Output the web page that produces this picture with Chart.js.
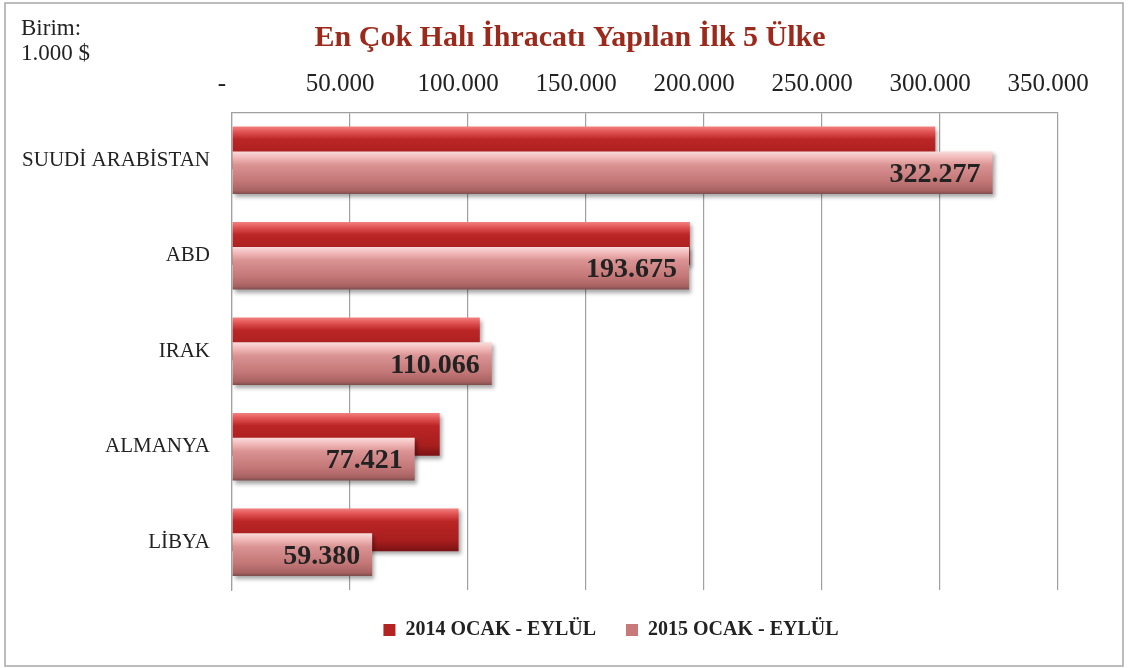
<!DOCTYPE html>
<html>
<head>
<meta charset="utf-8">
<script src="https://cdn.jsdelivr.net/npm/chart.js@4/dist/chart.umd.min.js"></script>
<style>
  html, body { margin: 0; padding: 0; background: #fff; }
  #wrap { width: 1128px; height: 668px; position: relative; }
</style>
</head>
<body>
<div id="wrap"><canvas id="c" width="1128" height="668"></canvas></div>
<script>
const categories = ['SUUDİ ARABİSTAN', 'ABD', 'IRAK', 'ALMANYA', 'LİBYA'];
const series2014 = [298000, 194000, 105000, 88000, 96000];
const series2015 = [322277, 193675, 110066, 77421, 59380];
const seriesNames = ['2014 OCAK - EYLÜL', '2015 OCAK - EYLÜL'];
const titleText = 'En Çok Halı İhracatı Yapılan İlk 5 Ülke';
const unitLines = ['Birim:', '1.000 $'];
const xTicks = [0, 50000, 100000, 150000, 200000, 250000, 300000, 350000];

const SERIF = '"Liberation Serif", "DejaVu Serif", serif';
const fmt = v => v === 0 ? '-' : v.toLocaleString('de-DE');

const gradStops = [
  [[0, '#f28080'], [0.12, '#e35555'], [0.3, '#bb2525'], [0.75, '#a81e1e'], [1, '#7a1212']],
  [[0, '#f9dcdc'], [0.14, '#f2baba'], [0.32, '#da9292'], [0.7, '#c37777'], [0.92, '#a86262'], [1, '#7d4c4c']]
];

const customPlugin = {
  id: 'custom',
  beforeDraw(chart) {
    const ctx = chart.ctx;
    ctx.save();
    ctx.fillStyle = '#fff';
    ctx.fillRect(0, 0, chart.width, chart.height);
    ctx.strokeStyle = '#a6a6a6';
    ctx.lineWidth = 1.5;
    ctx.strokeRect(5, 3, chart.width - 10, chart.height - 5);
    ctx.fillStyle = '#222';
    ctx.font = '23px ' + SERIF;
    ctx.textBaseline = 'alphabetic';
    ctx.textAlign = 'left';
    unitLines.forEach((t, i) => ctx.fillText(t, 21, 35 + i * 25));
    ctx.restore();
  },
  afterLayout(chart) {
    const l = chart.legend;
    if (l) { l.left += 77; l.right += 77; }
    const t = chart.titleBlock;
    if (t) { t.left += 36; t.right += 36; }
  },
  beforeDatasetsDraw(chart) {
    const ctx = chart.ctx;
    const area = chart.chartArea;
    [0, 1].forEach(di => {
      const meta = chart.getDatasetMeta(di);
      meta.data.forEach(el => {
        const p = el.getProps(['y', 'height'], true);
        const top = p.y - p.height / 2, bot = p.y + p.height / 2;
        const g = ctx.createLinearGradient(0, top, 0, bot);
        gradStops[di].forEach(s => g.addColorStop(s[0], s[1]));
        el.options = Object.assign({}, el.options, { backgroundColor: g });
      });
      ctx.save();
      ctx.beginPath();
      ctx.rect(area.left, area.top, area.right - area.left + 20, area.bottom - area.top);
      ctx.clip();
      ctx.shadowColor = 'rgba(0,0,0,0.35)';
      ctx.shadowBlur = 4;
      ctx.shadowOffsetX = 2;
      ctx.shadowOffsetY = 3;
      meta.controller.draw();
      ctx.restore();
    });
    // labels on 2015 bars
    const meta = chart.getDatasetMeta(1);
    ctx.save();
    ctx.font = 'bold 28px ' + SERIF;
    ctx.fillStyle = '#222';
    ctx.textAlign = 'right';
    ctx.textBaseline = 'middle';
    meta.data.forEach((el, i) => {
      const p = el.getProps(['x', 'y'], true);
      ctx.fillText(fmt(series2015[i]), p.x - 12, p.y + 2);
    });
    ctx.restore();
    return false;
  }
};

new Chart(document.getElementById('c'), {
  type: 'bar',
  data: {
    labels: categories,
    datasets: [
      { label: seriesNames[0], data: series2014, backgroundColor: '#b52222', borderWidth: 0,
        categoryPercentage: 0.52, barPercentage: 1.72 },
      { label: seriesNames[1], data: series2015, backgroundColor: '#c87a7a', borderWidth: 0,
        categoryPercentage: 0.52, barPercentage: 1.72 }
    ]
  },
  options: {
    indexAxis: 'y',
    responsive: false,
    animation: false,
    layout: { padding: { top: 0, left: 10, right: 70, bottom: 18 } },
    scales: {
      x: {
        position: 'top',
        min: 0, max: 350000,
        afterBuildTicks: s => { s.ticks = xTicks.map(v => ({ value: v })); },
        afterFit: s => { s.height = 52.6; s.paddingLeft = 0; s.paddingRight = 0; },
        ticks: {
          callback: v => fmt(v),
          font: { family: SERIF, size: 25 },
          color: '#222',
          padding: 13,
          labelOffset: -10,
          maxRotation: 0
        },
        grid: { color: '#a0a0a0', lineWidth: 1.2, drawTicks: false },
        border: { display: true, color: '#a0a0a0', width: 1.2 }
      },
      y: {
        afterFit: s => { s.width = 222; },
        ticks: { font: { family: SERIF, size: 21 }, color: '#222', padding: 22 },
        grid: { display: false, drawTicks: false },
        border: { display: true, color: '#a0a0a0', width: 1.2 }
      }
    },
    plugins: {
      title: {
        display: true,
        text: titleText,
        color: '#9c2a1c',
        font: { family: SERIF, size: 30, weight: 'bold' },
        padding: { top: 20, bottom: 4 }
      },
      legend: {
        position: 'bottom',
        labels: {
          color: '#222',
          font: { family: SERIF, size: 20, weight: 'bold' },
          boxWidth: 12, boxHeight: 12,
          padding: 30
        }
      },
      tooltip: { enabled: false }
    }
  },
  plugins: [customPlugin]
});
</script>
</body>
</html>
